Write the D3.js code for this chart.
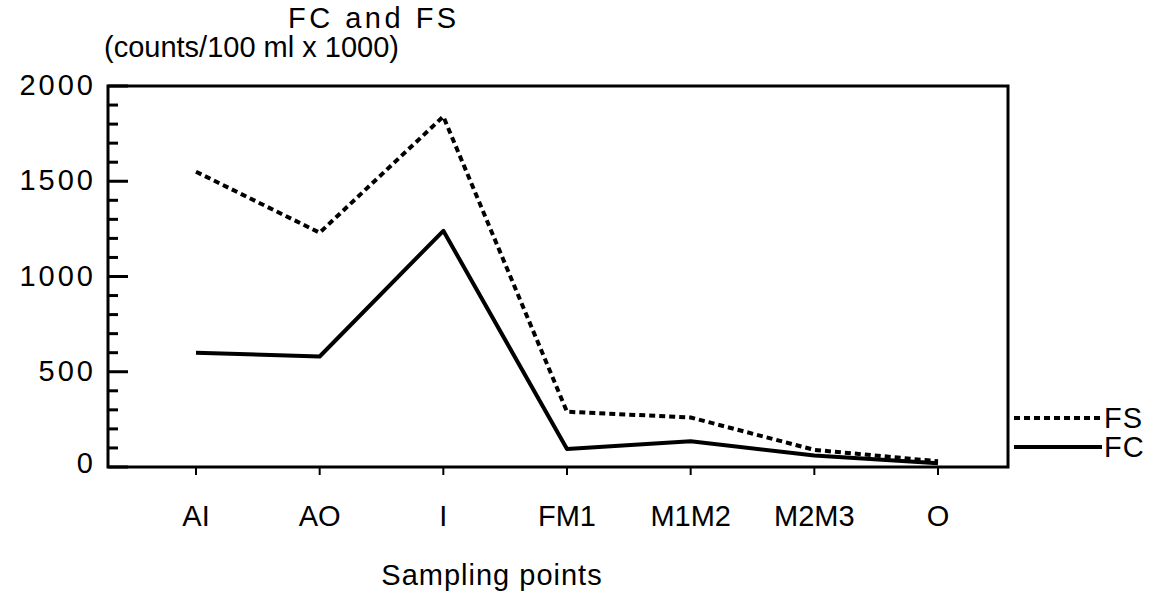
<!DOCTYPE html>
<html>
<head>
<meta charset="utf-8">
<script src="https://cdn.jsdelivr.net/npm/d3@7"></script>
<style>
    body { margin: 0; background: #fff; }
    svg text {
        font-family: "Liberation Sans", Arial, sans-serif;
        font-size: 29px;
        fill: #000;
    }
    /* the old plotter font has wide digits and caps, narrow lower case */
    .y-label { letter-spacing: 3px; }
    .title { letter-spacing: 3.5px; }
    .x-label { letter-spacing: 0px; }
    .x-title { letter-spacing: 1px; }
    .legend text { letter-spacing: 1px; }
    .box { fill: none; stroke: #000; stroke-width: 3; }
    .line { fill: none; stroke: #000; stroke-width: 4; stroke-linejoin: round; }
    .line.fs { stroke-dasharray: 6 4; }
</style>
</head>
<body>
<div id="chart"></div>
<script>
var samplingPoints = ["AI", "AO", "I", "FM1", "M1M2", "M2M3", "O"];
var fsValues = [1550, 1230, 1840, 290, 260, 90, 30];
var fcValues = [600, 580, 1240, 95, 135, 60, 20];
var yTicks = [0, 500, 1000, 1500, 2000];
var yMinorTicks = d3.range(0, 2001, 100);

var margin = { top: 86, right: 146, bottom: 130, left: 108 };
var fullWidth = 1154, fullHeight = 597;
var width = fullWidth - margin.left - margin.right,
    height = fullHeight - margin.top - margin.bottom;

var svg = d3.select('#chart')
    .append('svg')
    .attr('width', fullWidth)
    .attr('height', fullHeight);

var g = svg.append('g')
    .attr('transform', "translate(" + margin.left + "," + margin.top + ")");

var xScale = d3.scalePoint()
    .domain(samplingPoints)
    .range([88, 830]);

var yScale = d3.scaleLinear()
    .domain([0, 2000])
    .range([height, 0]);

// frame
g.append('rect')
    .attr('class', 'box')
    .attr('width', width)
    .attr('height', height);

// y ticks point inward, long ones every 500
g.selectAll('.minor-tick')
    .data(yMinorTicks)
    .enter()
    .append('line')
    .attr('class', 'minor-tick')
    .attr('x1', 0)
    .attr('x2', function(d) { return d % 500 === 0 ? 20 : 10; })
    .attr('y1', function(d) { return yScale(d); })
    .attr('y2', function(d) { return yScale(d); })
    .attr('stroke', '#000')
    .attr('stroke-width', 3);

g.selectAll('.y-label')
    .data(yTicks)
    .enter()
    .append('text')
    .attr('class', 'y-label')
    .attr('x', -12)
    .attr('y', function(d) { return yScale(d) + (d === 0 ? 6 : 9); })
    .attr('text-anchor', 'end')
    .text(function(d) { return d; });

// x ticks hang below the axis
g.selectAll('.x-tick')
    .data(samplingPoints)
    .enter()
    .append('line')
    .attr('class', 'x-tick')
    .attr('x1', function(d) { return xScale(d); })
    .attr('x2', function(d) { return xScale(d); })
    .attr('y1', height)
    .attr('y2', height + 8)
    .attr('stroke', '#000')
    .attr('stroke-width', 2);

g.selectAll('.x-label')
    .data(samplingPoints)
    .enter()
    .append('text')
    .attr('class', 'x-label')
    .attr('x', function(d) { return xScale(d); })
    .attr('y', height + 59)
    .attr('text-anchor', 'middle')
    .text(function(d) { return d; });

var line = d3.line()
    .x(function(d, i) { return xScale(samplingPoints[i]); })
    .y(function(d) { return yScale(d); });

g.append('path')
    .datum(fsValues)
    .attr('class', 'line fs')
    .attr('d', line);

g.append('path')
    .datum(fcValues)
    .attr('class', 'line fc')
    .attr('d', line);

// legend on the right, outside the frame
var legend = [
    { name: "FS", cls: "line fs", y: 418 },
    { name: "FC", cls: "line fc", y: 447 }
];

var leg = svg.selectAll('.legend')
    .data(legend)
    .enter()
    .append('g')
    .attr('class', 'legend');

leg.append('line')
    .attr('class', function(d) { return d.cls; })
    .attr('x1', 1014)
    .attr('x2', 1102)
    .attr('y1', function(d) { return d.y; })
    .attr('y2', function(d) { return d.y; });

leg.append('text')
    .attr('x', 1104)
    .attr('y', function(d) { return d.y + 10; })
    .text(function(d) { return d.name; });

// titles
svg.append('text')
    .attr('class', 'title')
    .attr('x', 288)
    .attr('y', 28)
    .text('FC and FS');

svg.append('text')
    .attr('class', 'subtitle')
    .attr('x', 104)
    .attr('y', 57)
    .text('(counts/100 ml x 1000)');

svg.append('text')
    .attr('class', 'x-title')
    .attr('x', 492)
    .attr('y', 585)
    .attr('text-anchor', 'middle')
    .text('Sampling points');
</script>
</body>
</html>
